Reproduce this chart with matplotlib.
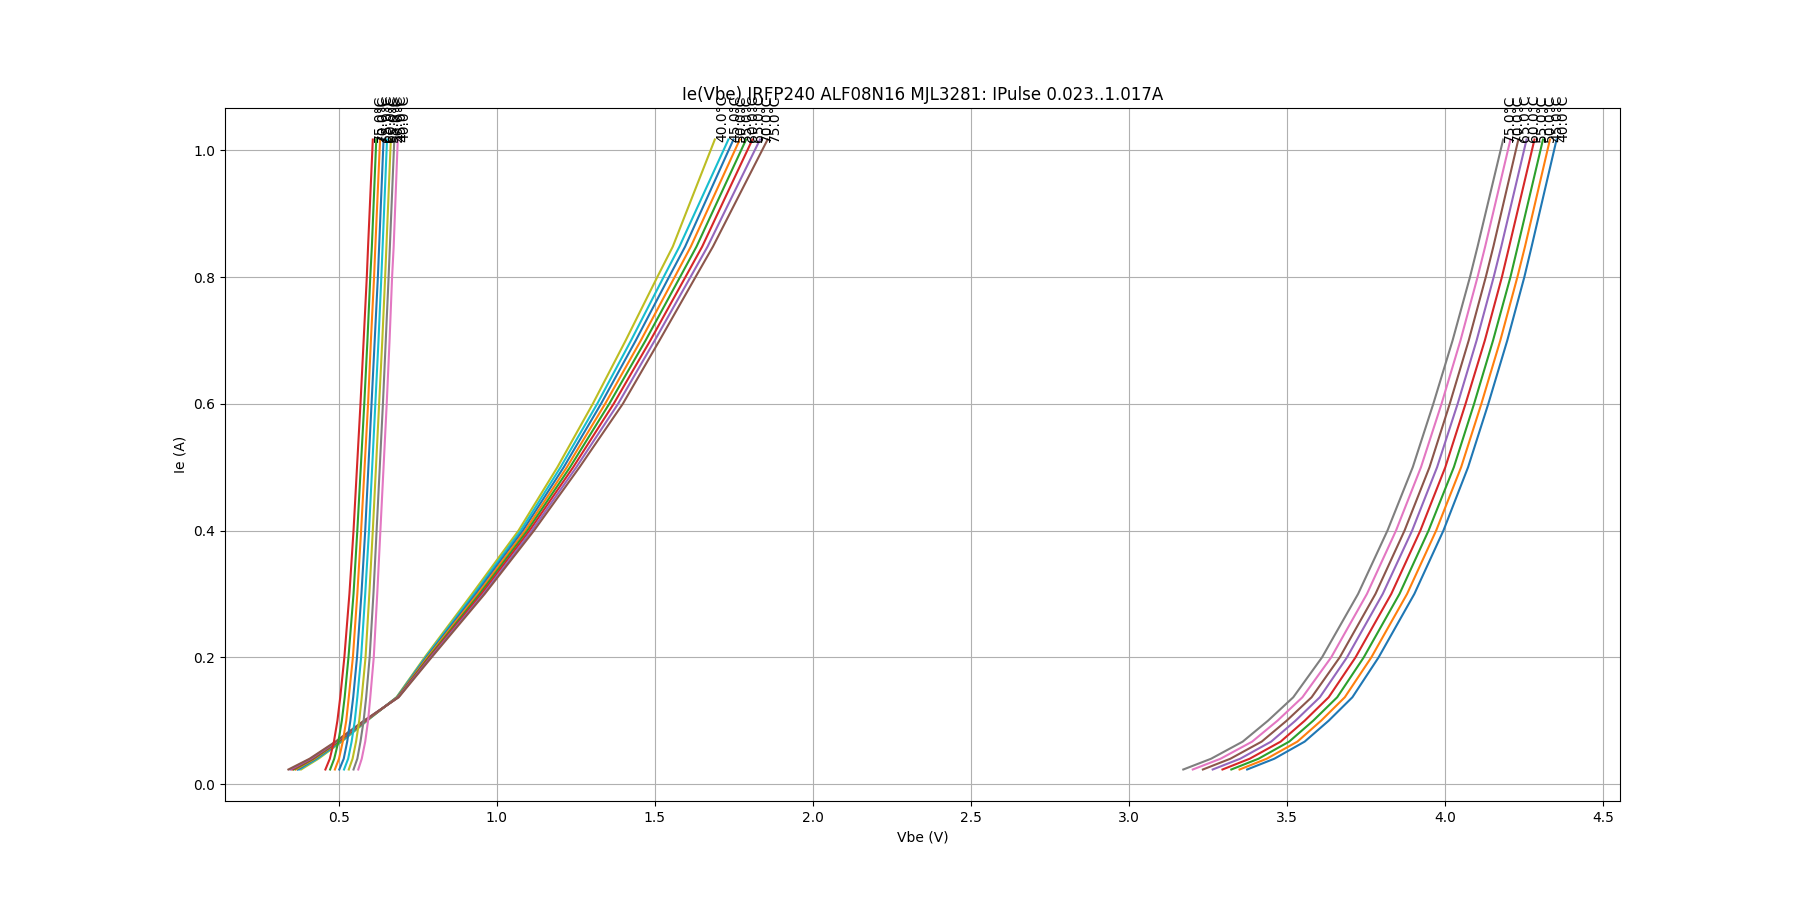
import numpy as np
import matplotlib.pyplot as plt

# pulse currents (A), shared by all devices
currents = [0.023, 0.04, 0.067, 0.1, 0.137, 0.2, 0.3, 0.4, 0.5, 0.6, 0.7, 0.8, 0.848, 1.017]
temps = [40.0, 45.0, 50.0, 55.0, 60.0, 65.0, 70.0, 75.0]

# Vbe (V) per temperature, one row per temp (40..75 degC)
vbe_irfp240 = [
    [3.374, 3.460, 3.556, 3.632, 3.707, 3.790, 3.903, 3.995, 4.073, 4.137, 4.197, 4.251, 4.274, 4.353],
    [3.350, 3.436, 3.533, 3.608, 3.683, 3.767, 3.880, 3.972, 4.051, 4.115, 4.175, 4.229, 4.253, 4.332],
    [3.324, 3.410, 3.507, 3.583, 3.659, 3.743, 3.856, 3.948, 4.028, 4.092, 4.152, 4.207, 4.230, 4.310],
    [3.296, 3.382, 3.480, 3.556, 3.632, 3.717, 3.830, 3.922, 4.001, 4.065, 4.126, 4.180, 4.203, 4.283],
    [3.265, 3.352, 3.450, 3.527, 3.604, 3.690, 3.803, 3.896, 3.975, 4.040, 4.100, 4.154, 4.178, 4.258],
    [3.234, 3.321, 3.420, 3.499, 3.578, 3.667, 3.780, 3.872, 3.951, 4.015, 4.075, 4.129, 4.153, 4.232],
    [3.202, 3.290, 3.390, 3.470, 3.549, 3.640, 3.753, 3.845, 3.924, 3.989, 4.049, 4.103, 4.127, 4.207],
    [3.172, 3.260, 3.360, 3.440, 3.520, 3.611, 3.725, 3.818, 3.898, 3.963, 4.024, 4.079, 4.103, 4.184],
]

vbe_alf08n16 = [
    [0.381, 0.436, 0.510, 0.590, 0.683, 0.772, 0.922, 1.069, 1.192, 1.304, 1.408, 1.508, 1.557, 1.690],
    [0.375, 0.432, 0.507, 0.589, 0.684, 0.775, 0.928, 1.076, 1.202, 1.318, 1.425, 1.528, 1.578, 1.733],
    [0.370, 0.428, 0.504, 0.587, 0.685, 0.778, 0.934, 1.083, 1.212, 1.330, 1.440, 1.545, 1.596, 1.749],
    [0.364, 0.424, 0.501, 0.586, 0.686, 0.781, 0.940, 1.090, 1.222, 1.343, 1.456, 1.563, 1.614, 1.769],
    [0.358, 0.420, 0.499, 0.584, 0.687, 0.785, 0.946, 1.097, 1.232, 1.356, 1.471, 1.580, 1.632, 1.789],
    [0.353, 0.416, 0.496, 0.583, 0.688, 0.788, 0.952, 1.104, 1.242, 1.370, 1.486, 1.597, 1.650, 1.809],
    [0.347, 0.412, 0.493, 0.581, 0.689, 0.791, 0.958, 1.111, 1.252, 1.384, 1.500, 1.613, 1.667, 1.833],
    [0.341, 0.408, 0.490, 0.580, 0.690, 0.794, 0.962, 1.118, 1.262, 1.399, 1.515, 1.629, 1.684, 1.857],
]

vbe_mjl3281 = [
    [0.562, 0.573, 0.584, 0.593, 0.600, 0.611, 0.622, 0.632, 0.642, 0.652, 0.661, 0.669, 0.674, 0.687],
    [0.547, 0.559, 0.569, 0.579, 0.587, 0.598, 0.610, 0.620, 0.630, 0.640, 0.649, 0.658, 0.662, 0.676],
    [0.532, 0.544, 0.555, 0.565, 0.573, 0.585, 0.597, 0.608, 0.618, 0.628, 0.638, 0.647, 0.651, 0.665],
    [0.517, 0.530, 0.541, 0.551, 0.559, 0.571, 0.584, 0.596, 0.606, 0.616, 0.626, 0.635, 0.639, 0.653],
    [0.502, 0.516, 0.527, 0.537, 0.546, 0.558, 0.572, 0.584, 0.594, 0.604, 0.614, 0.624, 0.628, 0.642],
    [0.488, 0.501, 0.513, 0.524, 0.532, 0.545, 0.559, 0.571, 0.582, 0.593, 0.602, 0.612, 0.616, 0.631],
    [0.473, 0.486, 0.499, 0.510, 0.519, 0.531, 0.547, 0.559, 0.570, 0.581, 0.591, 0.600, 0.605, 0.619],
    [0.458, 0.472, 0.485, 0.496, 0.505, 0.518, 0.534, 0.547, 0.558, 0.569, 0.579, 0.589, 0.593, 0.608],
]

devices = ["IRFP240", "ALF08N16", "MJL3281"]
all_vbe = [vbe_irfp240, vbe_alf08n16, vbe_mjl3281]

fig, ax = plt.subplots(figsize=(18, 9), dpi=100)

for vbe in all_vbe:
    for t, v in zip(temps, vbe):
        ax.plot(v, currents)
        # label at the top end of each curve
        ax.text(v[-1], currents[-1], f"{t:.1f}°C", rotation=90)

ax.set_title("Ie(Vbe) " + " ".join(devices) + f": IPulse {currents[0]}..{currents[-1]}A")
ax.set_xlabel("Vbe (V)")
ax.set_ylabel("Ie (A)")
ax.grid(True)

fig.savefig("out.png")
